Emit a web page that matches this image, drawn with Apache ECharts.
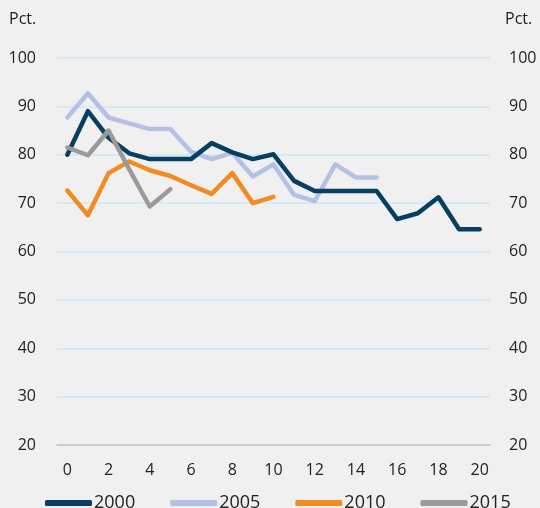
<!DOCTYPE html>
<html>
<head>
<meta charset="utf-8">
<script src="https://cdn.jsdelivr.net/npm/echarts@6/dist/echarts.min.js"></script>
<style>
  html, body { margin: 0; padding: 0; background: #f0f0f0; }
  #chart { width: 540px; height: 508px; }
</style>
</head>
<body>
<div id="chart"></div>
<script>
// Years since start (x axis categories)
const years = ['0','1','2','3','4','5','6','7','8','9','10','11','12','13','14','15','16','17','18','19','20'];

// Share in percent per cohort
const s2000 = [80.0, 89.0, 83.5, 80.3, 79.1, 79.1, 79.1, 82.4, 80.5, 79.1, 80.1, 74.6, 72.5, 72.5, 72.5, 72.5, 66.7, 67.9, 71.2, 64.6, 64.6];
const s2005 = [87.7, 92.7, 87.7, 86.5, 85.3, 85.3, 80.6, 79.1, 80.4, 75.5, 78.0, 71.7, 70.4, 78.0, 75.3, 75.3];
const s2010 = [72.6, 67.5, 76.2, 78.6, 76.8, 75.6, 73.7, 71.9, 76.2, 70.0, 71.3];
const s2015 = [81.5, 79.9, 85.0, 77.0, 69.3, 72.9];

const seriesNames = ['2000', '2005', '2010', '2015'];
const colors = ['#073f63', '#b4c1e5', '#f28c22', '#9a9a9a'];

const font = 'Open Sans';
const chart = echarts.init(document.getElementById('chart'));

function lineSeries(name, data, color, z) {
  return {
    name: name,
    type: 'line',
    data: data,
    symbol: 'none',
    z: z,
    lineStyle: { color: color, width: 4.5, cap: 'round', join: 'round' },
    itemStyle: { color: color }
  };
}

chart.setOption({
  backgroundColor: '#f0f0f0',
  animation: false,
  textStyle: { fontFamily: font },
  grid: { left: 57, right: 50, top: 58, bottom: 63 },
  xAxis: {
    type: 'category',
    data: years,
    boundaryGap: true,
    axisLine: { lineStyle: { color: '#c4c4c4', width: 1.5 } },
    axisTick: { show: false },
    axisLabel: { interval: 1, color: '#222', fontSize: 16, margin: 17, fontFamily: font }
  },
  yAxis: [
    {
      type: 'value', min: 20, max: 100, interval: 10, position: 'left',
      axisLine: { show: false }, axisTick: { show: false },
      axisLabel: { color: '#222', fontSize: 16, margin: 21, fontFamily: font },
      splitLine: { lineStyle: { color: '#cde7f8', width: 1.5 } }
    },
    {
      type: 'value', min: 20, max: 100, interval: 10, position: 'right',
      axisLine: { show: false }, axisTick: { show: false },
      axisLabel: { color: '#222', fontSize: 16, margin: 19, fontFamily: font },
      splitLine: { show: false }
    }
  ],
  legend: {
    top: 489, left: 40,
    itemWidth: 47, itemHeight: 6, itemGap: 35,
    icon: 'roundRect',
    textStyle: { color: '#222', fontSize: 18, fontFamily: font, padding: [0, 0, 0, -3] },
    data: seriesNames
  },
  graphic: [
    { type: 'text', left: 9, top: 11, style: { text: 'Pct.', fill: '#222', font: '16px "' + font + '"' } },
    { type: 'text', left: 505, top: 11, style: { text: 'Pct.', fill: '#222', font: '16px "' + font + '"' } }
  ],
  color: colors,
  series: [
    lineSeries(seriesNames[0], s2000, colors[0], 4),
    lineSeries(seriesNames[1], s2005, colors[1], 3),
    lineSeries(seriesNames[2], s2010, colors[2], 2),
    lineSeries(seriesNames[3], s2015, colors[3], 5)
  ]
});
</script>
</body>
</html>
